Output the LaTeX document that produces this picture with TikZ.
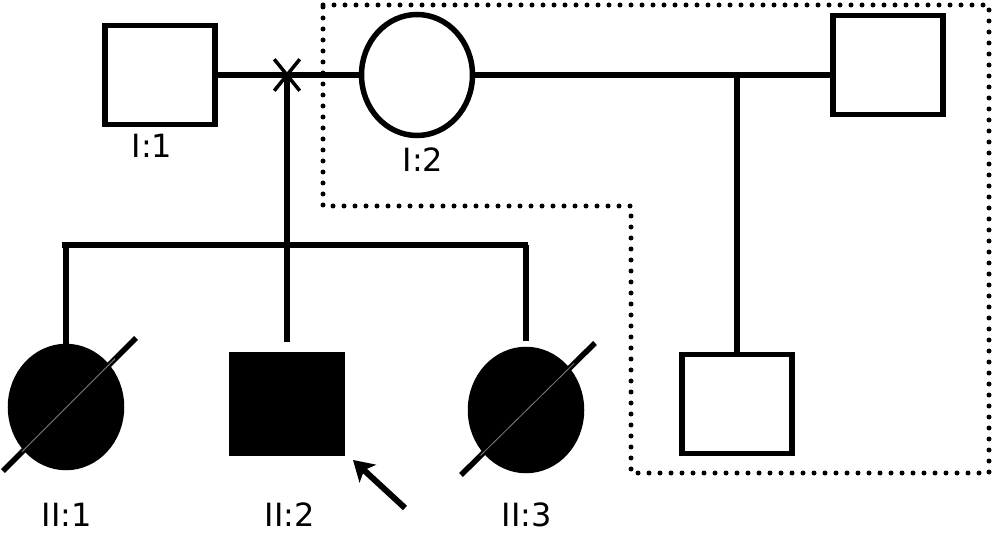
\documentclass[tikz,border=0pt]{standalone}
\usepackage{fontspec}
\setmainfont{DejaVu Sans}
\usetikzlibrary{shapes.geometric,shapes.misc,arrows.meta}

\begin{document}
\begin{tikzpicture}[x=1pt,y=-1pt,line width=5.5pt,
    male/.style={draw,rectangle,inner sep=0pt,minimum width=110pt,minimum height=99pt},
    female/.style={draw,ellipse,inner sep=0pt,minimum width=111pt,minimum height=121pt},
    affected/.style={fill=black},
    idtext/.style={anchor=base,inner sep=0pt,font=\fontsize{32}{38}\selectfont}]

% Fix the size of the picture
\useasboundingbox (0,0) rectangle (993,534);

% Draw the parents
\node[male] (I1) at (160,75) {};
\node[female] (I2) at (417,75) {};
\node[male] (R1) at (888,65) {};

% Draw the children
\node[female,affected] (II1) at (66,407) {};
\node[male,affected] (II2) at (287,404) {};
\node[female,affected] (II3) at (526,410) {};
\node[male] (R2) at (737,404) {};

% Draw the labels
\node[idtext] (tI1) at (152,158) {I:1};
\node[idtext] (tI2) at (423,172) {I:2};
\node[idtext] (tII1) at (67,526) {II:1};
\node[idtext] (tII2) at (290,526) {II:2};
\node[idtext] (tII3) at (527,526) {II:3};

% Draw the marriage lines
\draw (I1.east) -- (I2.west);
\draw (I2.east) -- (I2.east -| R1.west);
\node[draw,cross out,line width=3.5pt,inner sep=0pt,minimum width=22pt,minimum height=28pt] (sep) at (287,75) {};

% Draw the sibship line
\coordinate (sibL) at (62,245);
\coordinate (sibR) at (528,245);
\draw (sibL) -- (sibR);
\draw (sep.center) -- (sep.center |- sibL);
\draw (II1.north |- sibL) -- (II1.north);
\draw (II2.north |- sibL) -- ([yshift=10pt]II2.north);
\draw (II3.north |- sibL) -- ([yshift=6pt]II3.north);

% Draw the line to the half brother
\coordinate (mate) at (737,75);
\draw (mate) -- (R2.north);

% Draw the deceased slashes
\foreach \n/\ax/\ay/\bx/\by in {II1/-63/64/70/-69, II3/-65/65/69/-67} {
    \draw ([shift={(\ax,\ay)}]\n.center) -- ([shift={(\bx,\by)}]\n.center);
    \draw[gray,line width=0.8pt] ([shift={(\ax*0.7,\ay*0.7)}]\n.center) -- ([shift={(\bx*0.7,\by*0.7)}]\n.center);
}

% Draw the proband arrow
\coordinate (tail) at (405,508);
\coordinate (tip) at (353,460);
\draw[-{Stealth[length=20pt,width=24pt,inset=5pt]},line width=6pt] (tail) -- (tip);

% Draw the dotted box
\draw[line width=5pt,line cap=round,dash pattern=on 0pt off 11pt]
    (323,5) -- (989,5) -- (989,473) -- (631,473) -- (631,206) -- (323,206) -- cycle;

\end{tikzpicture}
\end{document}
